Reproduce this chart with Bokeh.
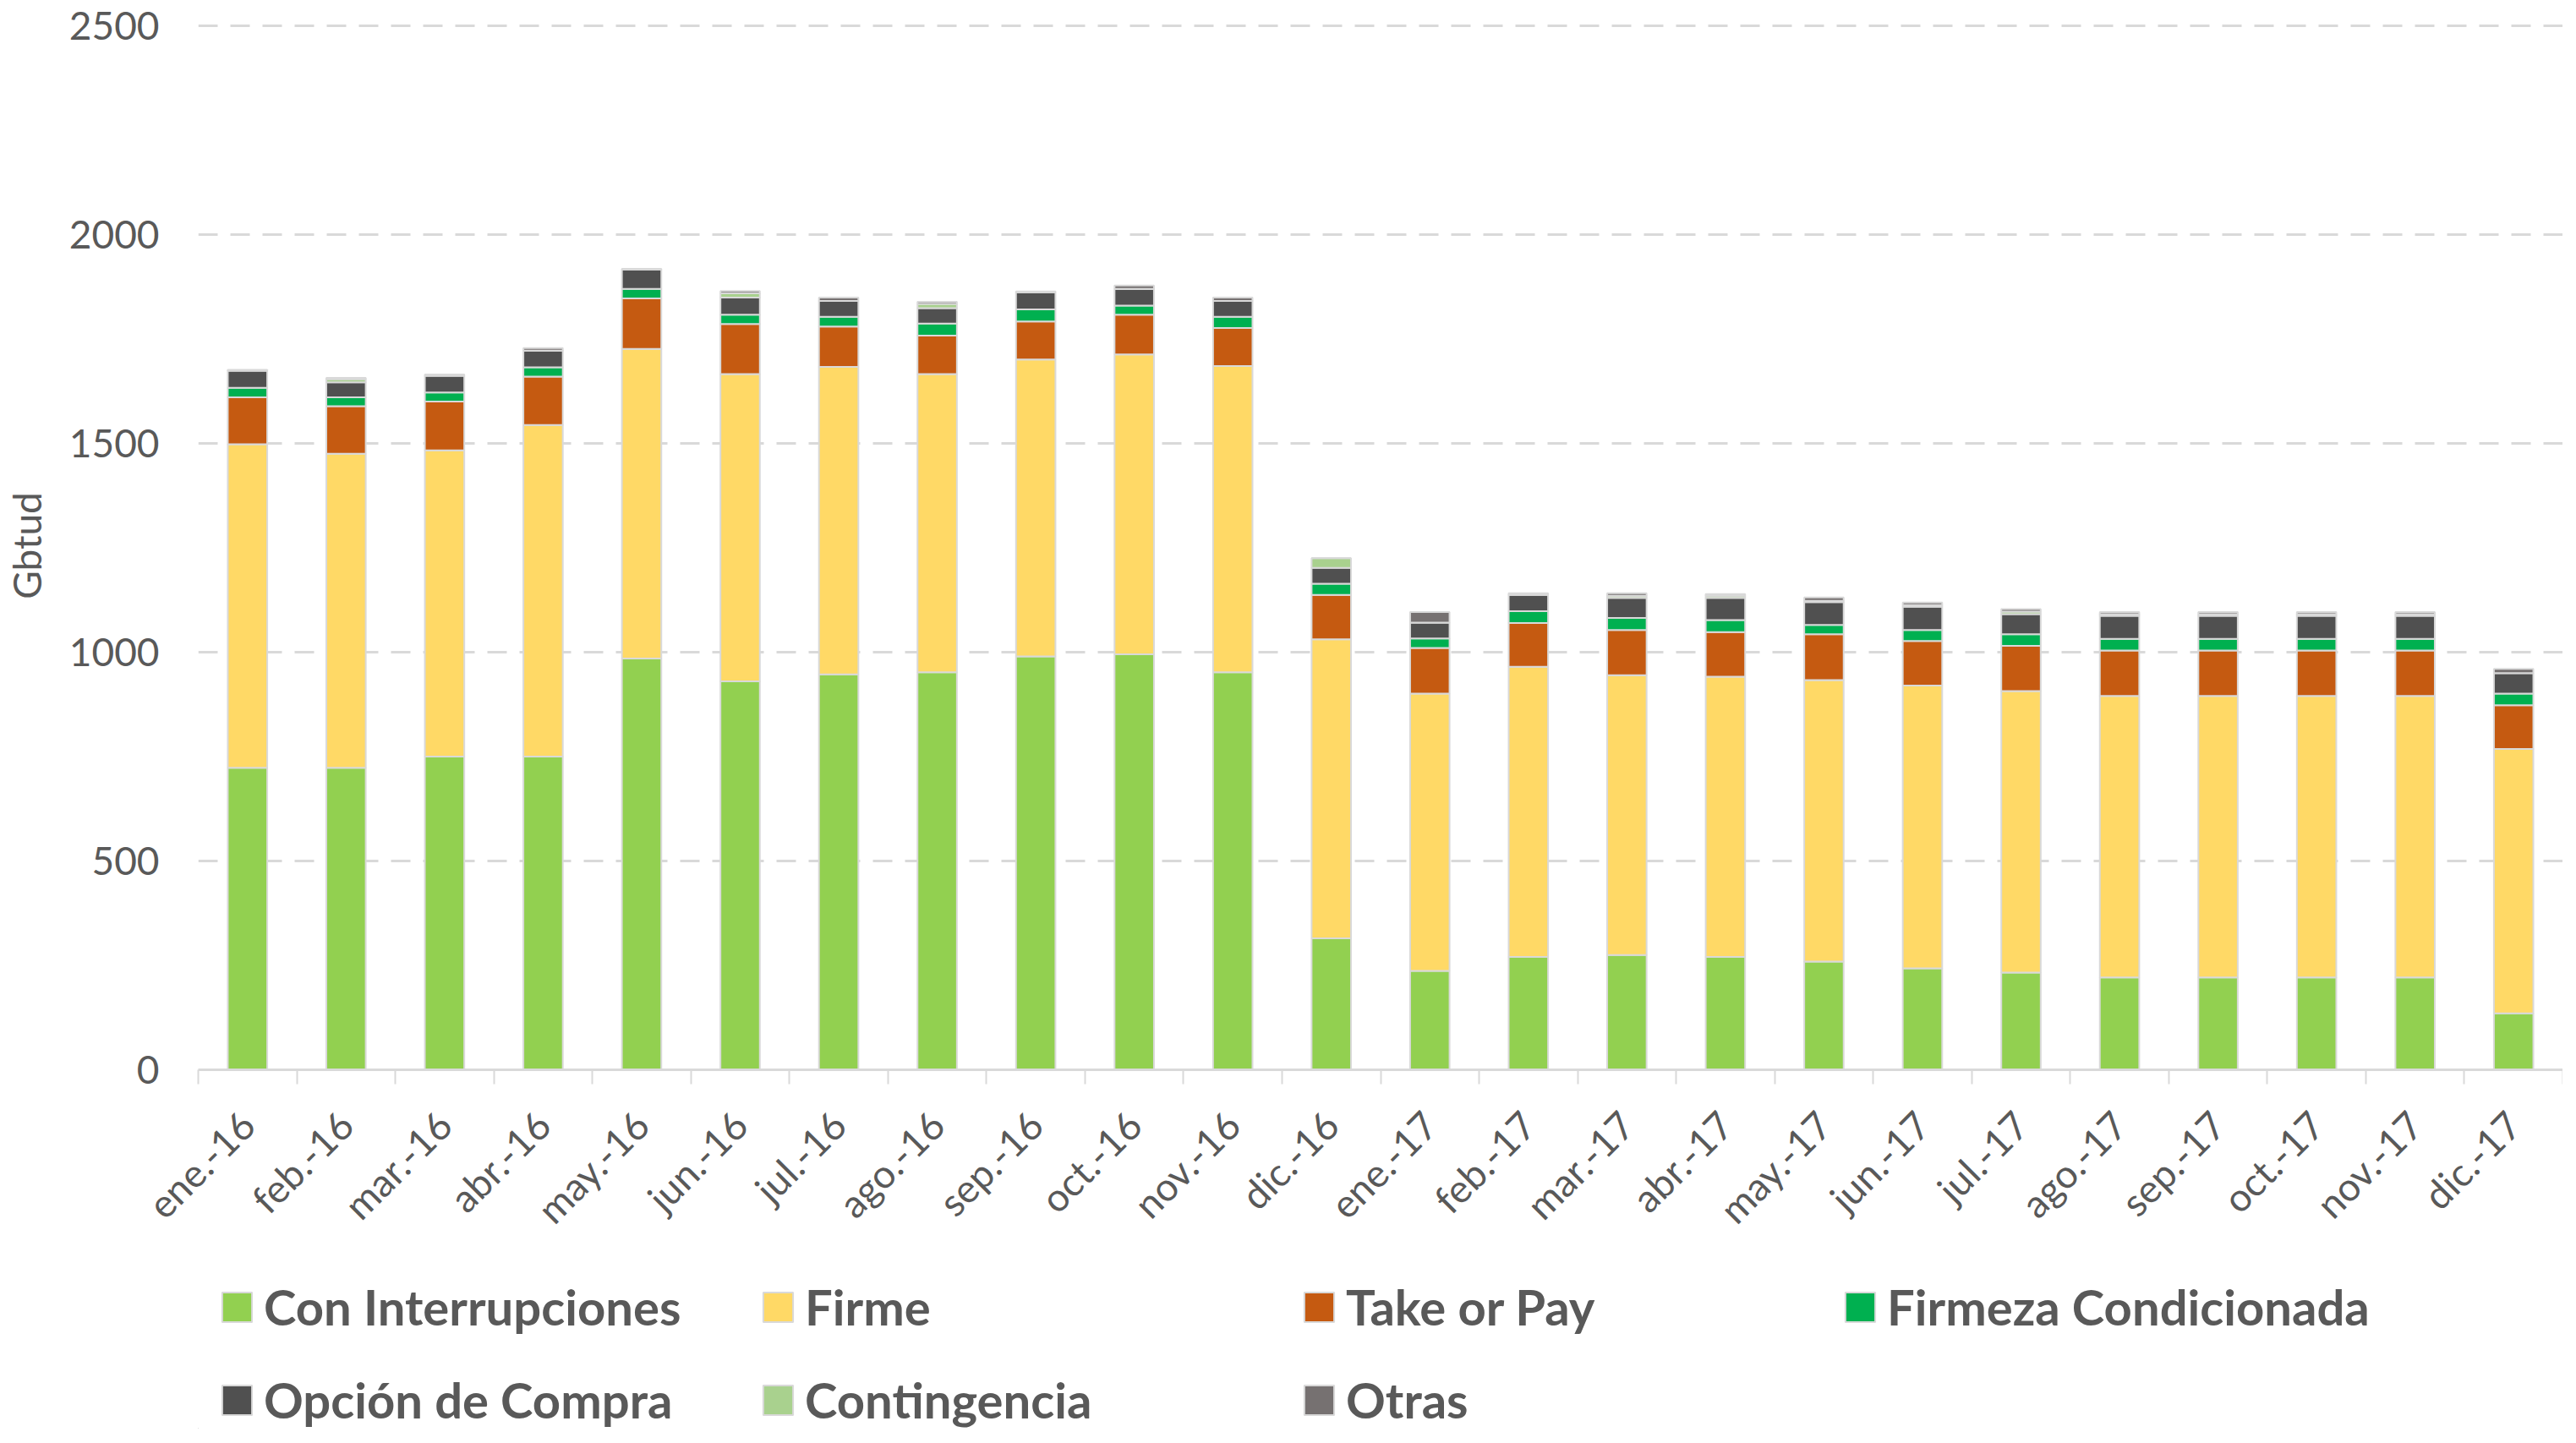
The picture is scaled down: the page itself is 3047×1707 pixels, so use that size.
import math
from bokeh.plotting import figure
from bokeh.layouts import column
from bokeh.models import Range1d, FixedTicker, Legend, LegendItem, ColumnDataSource
from bokeh.embed import file_html
from bokeh.resources import INLINE

months = ["ene.-16", "feb.-16", "mar.-16", "abr.-16", "may.-16", "jun.-16",
          "jul.-16", "ago.-16", "sep.-16", "oct.-16", "nov.-16", "dic.-16",
          "ene.-17", "feb.-17", "mar.-17", "abr.-17", "may.-17", "jun.-17",
          "jul.-17", "ago.-17", "sep.-17", "oct.-17", "nov.-17", "dic.-17"]

con_interrupciones = [723, 723, 750, 750, 985, 930, 947, 952, 990, 995, 952, 315,
                      237, 270, 275, 270, 259, 243, 233, 221, 221, 221, 221, 135]
firme = [775, 752, 733, 794, 741, 736, 736, 714, 711, 718, 733, 716,
         664, 695, 670, 671, 674, 677, 674, 674, 674, 674, 674, 633]
take_or_pay = [112, 114, 117, 116, 121, 120, 97, 92, 91, 95, 91, 106,
               109, 105, 108, 107, 110, 107, 108, 109, 109, 109, 109, 105]
firmeza_condicionada = [23, 21, 22, 22, 23, 22, 23, 29, 29, 22, 27, 27,
                        23, 28, 29, 29, 22, 26, 28, 28, 28, 28, 28, 28]
opcion_de_compra = [41, 36, 40, 40, 46, 41, 38, 37, 41, 40, 38, 38,
                    38, 39, 48, 53, 55, 56, 48, 55, 55, 55, 55, 49]
contingencia = [0, 8, 0, 0, 0, 10, 0, 10, 0, 0, 0, 23,
                0, 0, 5, 5, 3, 4, 6, 4, 4, 4, 4, 0]
otras = [2, 3, 3, 6, 2, 6, 8, 5, 2, 8, 8, 0,
         25, 4, 6, 4, 8, 6, 6, 5, 5, 5, 5, 10]

series_labels = ["Con Interrupciones", "Firme", "Take or Pay", "Firmeza Condicionada",
                 "Opción de Compra", "Contingencia", "Otras"]
series_keys = ["con_interrupciones", "firme", "take_or_pay", "firmeza_condicionada",
               "opcion_de_compra", "contingencia", "otras"]
series_colors = ["#92D050", "#FFD966", "#C55A11", "#00B050", "#505050", "#A9D18E", "#767171"]
y_ticks = [0, 500, 1000, 1500, 2000, 2500]

source = ColumnDataSource(dict(
    x=list(range(len(months))),
    con_interrupciones=con_interrupciones,
    firme=firme,
    take_or_pay=take_or_pay,
    firmeza_condicionada=firmeza_condicionada,
    opcion_de_compra=opcion_de_compra,
    contingencia=contingencia,
    otras=otras,
))

FONT = "Lato"
TXT = "#595959"
GRID = "#d9d9d9"

MAIN_H = 1480
p = figure(width=3031, height=MAIN_H, output_backend="svg", toolbar_location=None,
           x_range=Range1d(-0.5, len(months) - 0.5), y_range=Range1d(0, 2510),
           min_border_left=221, min_border_right=0, min_border_top=25,
           min_border_bottom=MAIN_H - 1269)
p.outline_line_color = None

renderers = p.vbar_stack(series_keys, x="x", width=0.4, source=source,
                         fill_color=series_colors, line_color=GRID, line_width=2)

# x axis
xa = p.xaxis[0]
xa.ticker = FixedTicker(ticks=list(range(len(months))),
                        minor_ticks=[i - 0.5 for i in range(len(months) + 1)])
xa.major_label_overrides = {i: m for i, m in enumerate(months)}
xa.major_label_orientation = math.pi / 4
xa.major_tick_line_color = None
xa.minor_tick_line_color = GRID
xa.minor_tick_line_width = 2
xa.minor_tick_out = 17
xa.minor_tick_in = 0
xa.axis_line_color = GRID
xa.axis_line_width = 3
xa.major_label_standoff = 40
xa.major_label_text_font = FONT
xa.major_label_text_font_size = "46px"
xa.major_label_text_color = TXT

# y axis
ya = p.yaxis[0]
ya.ticker = FixedTicker(ticks=y_ticks)
ya.axis_line_color = None
ya.major_tick_line_color = None
ya.minor_tick_line_color = None
ya.major_label_standoff = 40
ya.major_label_text_font = FONT
ya.major_label_text_font_size = "46px"
ya.major_label_text_color = TXT
ya.axis_label = "Gbtud"
ya.axis_label_text_font = FONT
ya.axis_label_text_font_size = "46px"
ya.axis_label_text_font_style = "normal"
ya.axis_label_text_color = TXT
ya.axis_label_standoff = 20

p.xgrid.grid_line_color = None
p.ygrid.grid_line_color = GRID
p.ygrid.grid_line_width = 3
p.ygrid.grid_line_dash = "23 15"

# legend in its own strip below the chart (frame aligned with the chart's frame)
LEG_H = 210
lf = figure(width=3031, height=LEG_H, output_backend="svg", toolbar_location=None,
            x_range=Range1d(0, 1), y_range=Range1d(0, 1),
            x_axis_location=None, y_axis_location=None, min_border=0)
lf.outline_line_color = None
lf.xgrid.grid_line_color = None
lf.ygrid.grid_line_color = None
offscreen = ColumnDataSource(dict(x=[-10], top=[-10]))
leg_renderers = [lf.vbar(x="x", top="top", width=0.1, source=offscreen,
                         fill_color=c, line_color=GRID, line_width=2)
                 for c in series_colors]

legend = Legend(items=[LegendItem(label=lbl, renderers=[r])
                       for lbl, r in zip(series_labels, leg_renderers)],
                orientation="horizontal", ncols=4, location=(24, 0))
legend.border_line_color = None
legend.background_fill_alpha = 0
legend.label_text_font = FONT
legend.label_text_font_size = "58px"
legend.label_text_font_style = "bold"
legend.label_text_color = TXT
legend.glyph_width = 44
legend.glyph_height = 44
legend.label_standoff = 10
legend.label_width = 545
legend.spacing = 41
legend.padding = 0
legend.margin = 0
lf.add_layout(legend, "center")

layout = column(p, lf, spacing=0)
open("out.html", "w").write(file_html(layout, INLINE))
